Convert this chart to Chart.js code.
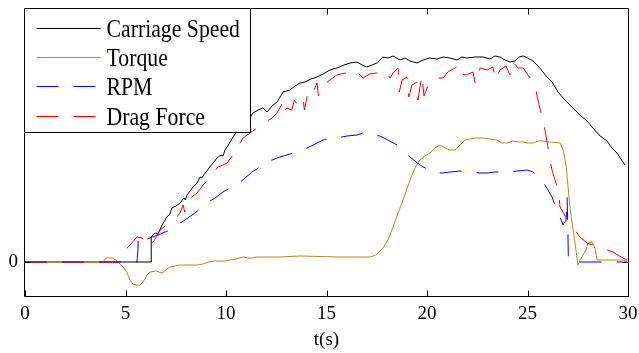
<!DOCTYPE html>
<html>
<head>
<meta charset="utf-8">
<script src="https://cdn.jsdelivr.net/npm/chart.js@4/dist/chart.umd.min.js"></script>
<style>
  html, body { margin: 0; padding: 0; background: #fff; }
  #wrap { width: 639px; height: 353px; }
</style>
</head>
<body>
<div id="wrap"><canvas id="runChart" width="639" height="353"></canvas></div>
<script>
// time axis ticks (s) and the single labelled y tick
const xTicks = [0, 5, 10, 15, 20, 25, 30];
const yTicks = [0];

// Carriage Speed
const speedT = [0, 6.27, 6.28, 6.47, 6.62, 6.82, 7.06, 7.21, 7.31, 7.51, 7.71, 7.91, 7.98, 8.06, 8.36, 8.56, 8.71, 8.80, 8.96, 9.20, 9.40, 9.55, 9.75, 9.85, 9.95, 10.15, 10.35, 10.60, 10.85, 10.95, 11.04, 11.19, 11.34, 11.59, 11.84, 12.04, 12.29, 12.54, 12.84, 13.18, 13.43, 13.68, 13.93, 14.23, 14.53, 14.83, 15.17, 15.52, 15.87, 16.17, 16.52, 16.77, 17.01, 17.26, 17.51, 17.81, 18.06, 18.31, 18.66, 18.91, 19.15, 19.50, 19.80, 20.15, 20.50, 20.80, 21.14, 21.49, 21.74, 21.99, 22.39, 22.79, 23.13, 23.38, 23.63, 23.88, 24.13, 24.38, 24.58, 24.78, 25.02, 25.27, 25.52, 25.77, 25.97, 26.22, 26.52, 26.77, 27.06, 27.36, 27.66, 27.96, 28.26, 28.61, 28.96, 29.20, 29.45, 29.65, 29.85];
const speedV = [0, 0, 0.25, 0.29, 0.28, 0.37, 0.45, 0.48, 0.54, 0.56, 0.59, 0.64, 0.62, 0.67, 0.75, 0.79, 0.85, 0.84, 0.89, 0.95, 1.00, 1.04, 1.07, 1.06, 1.12, 1.18, 1.25, 1.32, 1.38, 1.37, 1.42, 1.44, 1.49, 1.52, 1.54, 1.50, 1.56, 1.60, 1.70, 1.72, 1.76, 1.79, 1.80, 1.83, 1.85, 1.88, 1.92, 1.94, 1.97, 1.99, 2.00, 1.97, 1.95, 1.97, 1.99, 2.05, 2.04, 2.06, 2.02, 2.04, 2.01, 1.99, 2.02, 2.04, 2.03, 2.05, 2.04, 2.02, 2.05, 2.04, 2.05, 2.05, 2.03, 2.06, 2.05, 2.02, 2.00, 2.01, 2.05, 2.06, 2.04, 2.01, 1.96, 1.90, 1.85, 1.80, 1.70, 1.64, 1.58, 1.52, 1.46, 1.41, 1.34, 1.26, 1.21, 1.14, 1.09, 1.03, 0.97];

// Torque
const torqueT = [0, 3.88, 4.03, 4.38, 4.58, 4.88, 5.07, 5.22, 5.37, 5.52, 5.72, 5.82, 5.97, 6.07, 6.22, 6.52, 6.82, 7.01, 7.21, 7.46, 7.71, 8.21, 8.56, 8.86, 9.10, 9.40, 9.70, 10.00, 10.20, 10.50, 10.85, 11.09, 11.34, 11.49, 11.69, 12.69, 13.68, 15.67, 17.16, 17.46, 17.81, 18.06, 18.31, 18.56, 18.81, 19.05, 19.25, 19.45, 19.65, 19.90, 20.15, 20.40, 20.65, 20.90, 21.14, 21.39, 21.64, 21.89, 22.39, 22.79, 23.13, 23.48, 23.73, 23.98, 24.28, 24.53, 24.78, 25.02, 25.27, 25.52, 25.77, 26.12, 26.62, 26.77, 26.92, 27.01, 27.11, 27.21, 27.31, 27.41, 27.51, 27.61, 27.76, 27.91, 28.01, 28.21, 28.36, 28.46, 29.10, 29.95];
const torqueV = [0, 0, 0.04, 0.04, 0.01, -0.05, -0.10, -0.18, -0.22, -0.23, -0.23, -0.21, -0.17, -0.13, -0.10, -0.09, -0.11, -0.08, -0.05, -0.04, -0.03, -0.03, -0.03, -0.02, 0, 0.01, 0.01, 0.01, 0.02, 0.03, 0.05, 0.04, 0.04, 0.05, 0.05, 0.05, 0.06, 0.05, 0.05, 0.07, 0.14, 0.22, 0.35, 0.49, 0.62, 0.76, 0.87, 0.96, 1.02, 1.06, 1.09, 1.14, 1.17, 1.14, 1.12, 1.12, 1.17, 1.22, 1.24, 1.24, 1.23, 1.22, 1.19, 1.19, 1.21, 1.20, 1.20, 1.19, 1.19, 1.21, 1.21, 1.20, 1.19, 1.12, 0.97, 0.77, 0.55, 0.40, 0.27, 0.12, -0.03, 0.02, 0.07, 0.12, 0.19, 0.20, 0.14, 0.02, 0.02, 0.02];

// RPM
const rpmT = [0, 5.57, 5.62, 5.63, 5.72, 5.97, 6.22, 6.62, 6.97, 7.21, 7.56, 7.96, 8.31, 8.71, 9.05, 9.45, 9.85, 10.20, 10.55, 10.95, 11.29, 11.69, 12.04, 12.54, 13.18, 13.83, 14.33, 14.83, 15.52, 16.02, 16.52, 16.82, 17.26, 17.66, 18.06, 18.51, 18.91, 19.15, 19.65, 20.00, 20.30, 20.75, 21.14, 21.64, 21.99, 22.29, 22.64, 22.99, 23.38, 23.98, 24.48, 24.98, 25.27, 25.47, 25.77, 26.02, 26.22, 26.42, 26.62, 26.77, 26.92, 26.97, 27.01, 27.03, 27.16, 27.61, 29.95];
const rpmV = [0, 0, 0.12, 0.25, 0.22, 0.22, 0.24, 0.27, 0.30, 0.32, 0.37, 0.42, 0.47, 0.53, 0.59, 0.64, 0.70, 0.74, 0.77, 0.84, 0.90, 0.95, 1.00, 1.04, 1.08, 1.12, 1.17, 1.22, 1.24, 1.26, 1.27, 1.29, 1.27, 1.26, 1.22, 1.17, 1.10, 1.05, 0.97, 0.93, 0.90, 0.89, 0.90, 0.91, 0.90, 0.90, 0.89, 0.89, 0.90, 0.90, 0.91, 0.92, 0.90, 0.87, 0.80, 0.72, 0.65, 0.54, 0.45, 0.37, 0.42, 0.65, 0.32, 0.05, 0, 0, 0];

// Drag Force
const dragT = [0, 4.73, 4.83, 5.02, 5.27, 5.57, 5.82, 6.02, 6.22, 6.37, 6.57, 6.72, 6.97, 7.21, 7.56, 7.71, 7.86, 7.95, 8.11, 8.36, 8.56, 8.86, 9.20, 9.40, 9.60, 9.85, 10.05, 10.35, 10.60, 10.85, 11.19, 11.54, 11.79, 12.04, 12.29, 12.54, 12.84, 12.90, 13.03, 13.28, 13.40, 13.53, 13.83, 13.90, 14.08, 14.28, 14.53, 14.60, 14.78, 15.17, 15.52, 15.92, 16.17, 16.52, 16.82, 17.16, 17.51, 17.91, 18.16, 18.31, 18.56, 18.62, 18.76, 19.00, 19.10, 19.25, 19.50, 19.55, 19.75, 19.85, 20.00, 20.15, 20.45, 20.80, 21.04, 21.39, 21.64, 21.70, 21.94, 22.29, 22.40, 22.64, 22.99, 23.28, 23.40, 23.63, 23.93, 24.13, 24.28, 24.53, 24.78, 25.02, 25.22, 25.42, 25.52, 25.72, 25.87, 26.02, 26.12, 26.22, 26.37, 26.47, 26.57, 26.62, 26.77, 26.92, 27.14, 27.36, 27.61, 27.96, 28.26, 28.61, 28.96, 29.25, 29.50, 29.75, 29.95];
const dragV = [0, 0, 0.09, 0.13, 0.18, 0.25, 0.24, 0.19, 0.15, 0.20, 0.26, 0.32, 0.36, 0.40, 0.45, 0.49, 0.57, 0.50, 0.62, 0.66, 0.69, 0.77, 0.84, 0.90, 0.95, 0.97, 0.99, 1.07, 1.16, 1.24, 1.29, 1.34, 1.39, 1.41, 1.44, 1.49, 1.60, 1.50, 1.54, 1.52, 1.62, 1.58, 1.65, 1.52, 1.70, 1.67, 1.79, 1.66, 1.76, 1.82, 1.87, 1.89, 1.86, 1.90, 1.84, 1.88, 1.89, 1.92, 1.84, 1.89, 1.94, 1.70, 1.82, 1.85, 1.65, 1.77, 1.80, 1.62, 1.87, 1.66, 1.74, 1.79, 1.84, 1.84, 1.90, 1.94, 1.97, 1.88, 1.87, 1.90, 1.78, 1.94, 1.92, 1.95, 1.82, 1.92, 1.96, 1.87, 2.00, 1.94, 1.94, 1.87, 1.82, 1.72, 1.62, 1.45, 1.32, 1.15, 1.02, 0.92, 0.82, 0.75, 0.65, 0.55, 0.50, 0.44, 0.39, 0.32, 0.25, 0.19, 0.17, 0.15, 0.12, 0.10, 0.07, 0.04, 0.02];

const serif = "'Times New Roman', 'Liberation Serif', serif";
const dash = [22, 15];

function pairs(ts, vs) {
    return ts.map((t, i) => ({ x: t, y: vs[i] }));
}

const series = [
    { label: 'Carriage Speed', data: pairs(speedT, speedV), borderColor: '#000000', borderDash: [], order: 4 },
    { label: 'Torque', data: pairs(torqueT, torqueV), borderColor: '#b08d1e', borderDash: [], order: 3 },
    { label: 'RPM', data: pairs(rpmT, rpmV), borderColor: '#0000ff', borderDash: dash, order: 2 },
    { label: 'Drag Force', data: pairs(dragT, dragV), borderColor: '#ff0000', borderDash: dash, order: 1 }
];

// box round the axes with inward tick marks
const frame = {
    id: 'frame',
    afterDraw(chart) {
        const ctx = chart.ctx;
        const a = chart.chartArea;
        const l = Math.round(a.left) - 0.5, r = Math.round(a.right) + 0.5;
        const t = Math.round(a.top) - 0.5, b = Math.round(a.bottom) + 0.5;
        ctx.save();
        ctx.strokeStyle = '#000';
        ctx.lineWidth = 1;
        ctx.beginPath();
        ctx.rect(l, t, r - l, b - t);
        xTicks.forEach(v => {
            const px = Math.round(chart.scales.x.getPixelForValue(v)) + 0.5;
            ctx.moveTo(px, b); ctx.lineTo(px, b - 6);
            ctx.moveTo(px, t); ctx.lineTo(px, t + 6);
        });
        yTicks.forEach(v => {
            const py = Math.round(chart.scales.y.getPixelForValue(v)) + 0.5;
            ctx.moveTo(l, py); ctx.lineTo(l + 6, py);
            ctx.moveTo(r, py); ctx.lineTo(r - 6, py);
        });
        ctx.stroke();

        // legend, top left corner
        const lx = l, ly = t, lw = 226, lh = 124;
        ctx.fillStyle = '#fff';
        ctx.fillRect(lx, ly, lw, lh);
        ctx.strokeRect(lx, ly, lw, lh);
        series.forEach((s, i) => {
            const y = Math.round(ly + 19 + i * 29.4) + 0.5;
            ctx.strokeStyle = s.borderColor;
            ctx.setLineDash(s.borderDash);
            ctx.beginPath();
            ctx.moveTo(lx + 12, y);
            ctx.lineTo(lx + 76, y);
            ctx.stroke();
            ctx.setLineDash([]);
            ctx.save();
            ctx.translate(lx + 82, y + 8.5);
            ctx.scale(0.87, 1);
            ctx.fillStyle = '#000';
            ctx.font = '25px ' + serif;
            ctx.textBaseline = 'alphabetic';
            ctx.fillText(s.label, 0, 0);
            ctx.restore();
        });
        ctx.restore();
    }
};

new Chart(document.getElementById('runChart'), {
    type: 'line',
    data: {
        datasets: series.map(s => ({
            label: s.label,
            data: s.data,
            borderColor: s.borderColor,
            borderDash: s.borderDash,
            borderWidth: 1,
            pointRadius: 0,
            tension: 0,
            fill: false,
            order: s.order
        }))
    },
    options: {
        responsive: false,
        animation: false,
        layout: { padding: { top: 9, right: 11, left: 0, bottom: 0 } },
        plugins: { legend: { display: false }, tooltip: { enabled: false } },
        scales: {
            x: {
                type: 'linear',
                min: 0,
                max: 30,
                afterBuildTicks: scale => { scale.ticks = xTicks.map(v => ({ value: v })); },
                afterFit: scale => {
                    scale.height = 57;
                    scale.paddingLeft = 0;
                    scale.paddingRight = 0;
                },
                grid: { display: false, drawTicks: false },
                border: { display: false },
                ticks: { color: '#000', font: { family: serif, size: 19 }, padding: 7, maxRotation: 0 },
                title: { display: true, text: 't(s)', color: '#000', font: { family: serif, size: 19 }, padding: { top: 0, bottom: 2 } }
            },
            y: {
                min: -0.34,
                max: 2.53,
                afterBuildTicks: scale => { scale.ticks = yTicks.map(v => ({ value: v })); },
                afterFit: scale => {
                    scale.width = 25;
                    scale.paddingTop = 0;
                    scale.paddingBottom = 0;
                },
                grid: { display: false, drawTicks: false },
                border: { display: false },
                ticks: { color: '#000', font: { family: serif, size: 19 }, padding: 7 }
            }
        }
    },
    plugins: [frame]
});
</script>
</body>
</html>
